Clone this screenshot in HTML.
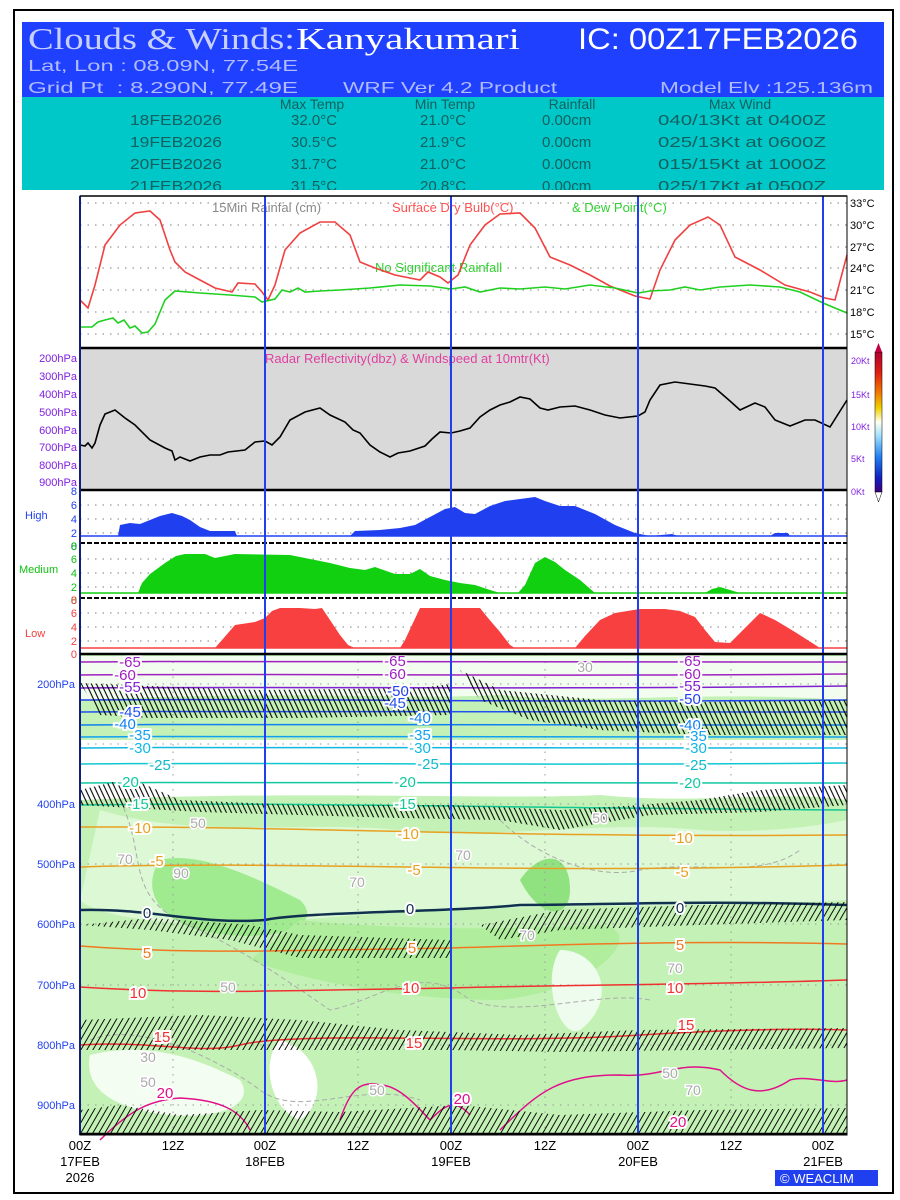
<!DOCTYPE html>
<html><head><meta charset="utf-8"><style>
html,body{margin:0;padding:0;background:#fff;}
svg{display:block;font-family:"Liberation Sans",sans-serif;}
</style></head><body>
<svg width="900" height="1200" viewBox="0 0 900 1200" xmlns="http://www.w3.org/2000/svg">
<defs>
<pattern id="barb" width="5" height="30" patternUnits="userSpaceOnUse" patternTransform="skewX(25)">
<line x1="2.5" y1="0" x2="2.5" y2="30" stroke="#000" stroke-width="1.2"/>
</pattern>
<pattern id="barb2" width="6" height="30" patternUnits="userSpaceOnUse" patternTransform="skewX(-30)">
<line x1="3" y1="0" x2="3" y2="30" stroke="#000" stroke-width="1.1"/>
</pattern>
<linearGradient id="cbar" x1="0" y1="0" x2="0" y2="1">
<stop offset="0" stop-color="#b00030"/><stop offset="0.15" stop-color="#e02010"/><stop offset="0.3" stop-color="#f08000"/><stop offset="0.4" stop-color="#f0d000"/><stop offset="0.5" stop-color="#fffff0"/><stop offset="0.6" stop-color="#a0e0ff"/><stop offset="0.75" stop-color="#2080f0"/><stop offset="0.9" stop-color="#1020c0"/><stop offset="1" stop-color="#400080"/>
</linearGradient>
</defs>
<rect x="14" y="10" width="879" height="1183" fill="#fff" stroke="#000" stroke-width="2"/>
<!-- header -->
<rect x="22" y="22" width="862" height="76" fill="#2040ff"/>
<rect x="22" y="97" width="862" height="93" fill="#00c8c8"/>
<text x="28" y="49" font-family="Liberation Serif,serif" font-size="31" fill="#c8d0ff" textLength="267" lengthAdjust="spacingAndGlyphs">Clouds &amp; Winds:</text>
<text x="296" y="49" font-family="Liberation Serif,serif" font-size="31" fill="#fff" textLength="224" lengthAdjust="spacingAndGlyphs">Kanyakumari</text>
<text x="578" y="49" font-size="30" fill="#fff" textLength="280" lengthAdjust="spacingAndGlyphs">IC: 00Z17FEB2026</text>
<text x="28" y="71" font-size="16" fill="#b0bcff" textLength="270" lengthAdjust="spacingAndGlyphs">Lat, Lon : 08.09N, 77.54E</text>
<text x="28" y="93" font-size="16" fill="#b0bcff" textLength="270" lengthAdjust="spacingAndGlyphs" xml:space="preserve">Grid Pt  : 8.290N, 77.49E</text>
<text x="343" y="93" font-size="16" fill="#b0bcff" textLength="214" lengthAdjust="spacingAndGlyphs">WRF Ver 4.2 Product</text>
<text x="660" y="93" font-size="16" fill="#b0bcff" textLength="213" lengthAdjust="spacingAndGlyphs">Model Elv :125.136m</text>
<g font-size="14" fill="#146060" text-anchor="middle">
<text x="312" y="109">Max Temp</text><text x="445" y="109">Min Temp</text><text x="572" y="109">Rainfall</text><text x="740" y="109">Max Wind</text>
</g>
<g font-size="15" fill="#146060">
<text x="130" y="125" textLength="92" lengthAdjust="spacingAndGlyphs">18FEB2026</text><text x="291" y="125">32.0°C</text><text x="420" y="125">21.0°C</text><text x="542" y="125">0.00cm</text><text x="658" y="125" textLength="168" lengthAdjust="spacingAndGlyphs">040/13Kt at 0400Z</text>
<text x="130" y="147" textLength="92" lengthAdjust="spacingAndGlyphs">19FEB2026</text><text x="291" y="147">30.5°C</text><text x="420" y="147">21.9°C</text><text x="542" y="147">0.00cm</text><text x="658" y="147" textLength="168" lengthAdjust="spacingAndGlyphs">025/13Kt at 0600Z</text>
<text x="130" y="169" textLength="92" lengthAdjust="spacingAndGlyphs">20FEB2026</text><text x="291" y="169">31.7°C</text><text x="420" y="169">21.0°C</text><text x="542" y="169">0.00cm</text><text x="658" y="169" textLength="168" lengthAdjust="spacingAndGlyphs">015/15Kt at 1000Z</text>
<text x="130" y="191" textLength="92" lengthAdjust="spacingAndGlyphs">21FEB2026</text><text x="291" y="191">31.5°C</text><text x="420" y="191">20.8°C</text><text x="542" y="191">0.00cm</text><text x="658" y="191" textLength="168" lengthAdjust="spacingAndGlyphs">025/17Kt at 0500Z</text>
</g>
<rect x="22" y="190" width="862" height="6" fill="#fff"/>

<!-- panel 1 temp -->
<g stroke="#999" stroke-dasharray="1.5,6" stroke-width="1.2">
<line x1="80" x2="847" y1="203" y2="203"/><line x1="80" x2="847" y1="225" y2="225"/><line x1="80" x2="847" y1="247" y2="247"/><line x1="80" x2="847" y1="268" y2="268"/><line x1="80" x2="847" y1="290" y2="290"/><line x1="80" x2="847" y1="312" y2="312"/><line x1="80" x2="847" y1="334" y2="334"/>
</g>
<g font-size="11" fill="#000">
<text x="850" y="207">33°C</text><text x="850" y="229">30°C</text><text x="850" y="251">27°C</text><text x="850" y="272">24°C</text><text x="850" y="294">21°C</text><text x="850" y="316">18°C</text><text x="850" y="338">15°C</text>
</g>
<text x="212" y="212" font-size="13" fill="#888">15Min Rainfal (cm)</text>
<text x="392" y="212" font-size="13" fill="#ff5050">Surface Dry Bulb(°C)</text>
<text x="572" y="212" font-size="13" fill="#30d030">&amp; Dew Point(°C)</text>
<text x="375" y="272" font-size="13" fill="#30d030">No Significant Rainfall</text>
<polyline fill="none" stroke="#f04040" stroke-width="1.6" points="80,300 88,308 95,285 105,245 120,225 135,213 150,211 160,220 170,250 175,262 185,272 200,280 215,288 232,292 238,283 255,284 262,292 268,300 275,285 285,250 300,233 320,222 335,222 350,235 360,262 375,268 395,275 420,280 428,272 440,277 448,283 458,275 470,245 485,225 500,214 520,213 535,228 550,257 570,265 590,275 610,286 635,296 650,299 660,270 675,240 690,225 708,217 720,225 735,257 760,270 785,285 810,292 825,298 835,300 847,255"/>
<polyline fill="none" stroke="#20d020" stroke-width="1.6" points="80,327 92,327 98,322 105,320 113,318 118,323 124,320 130,328 135,326 142,333 148,332 155,324 165,300 175,291 200,293 230,295 255,297 262,302 275,299 282,290 290,292 298,288 305,292 320,291 340,290 370,288 400,285 430,286 451,289 465,287 480,292 500,288 520,289 545,287 565,289 590,285 615,288 638,293 650,291 670,290 685,287 700,290 720,287 750,285 780,287 800,292 823,303 847,313"/>

<!-- radar panel -->
<rect x="80" y="348" width="767" height="142" fill="#d9d9d9"/>
<line x1="80" x2="847" y1="348" y2="348" stroke="#000" stroke-width="2.5"/>
<g font-size="11" fill="#8020e0" text-anchor="end">
<text x="77" y="362">200hPa</text><text x="77" y="380">300hPa</text><text x="77" y="398">400hPa</text><text x="77" y="416">500hPa</text><text x="77" y="434">600hPa</text><text x="77" y="451">700hPa</text><text x="77" y="469">800hPa</text><text x="77" y="486">900hPa</text>
</g>
<g font-size="9" fill="#8020e0">
<text x="851" y="364">20Kt</text><text x="851" y="398">15Kt</text><text x="851" y="430">10Kt</text><text x="851" y="462">5Kt</text><text x="851" y="495">0Kt</text>
</g>
<text x="265" y="363" font-size="13" fill="#e040a0">Radar Reflectivity(dbz) &amp; Windspeed at 10mtr(Kt)</text>
<polyline fill="none" stroke="#000" stroke-width="1.6" points="80,445 85,446 88,443 92,448 95,443 100,425 105,414 115,410 125,418 135,425 150,440 165,448 172,451 175,460 180,457 190,461 200,457 210,455 220,455 228,452 245,450 255,442 265,441 272,445 280,437 290,420 305,412 320,408 330,415 345,422 353,430 360,433 370,445 380,452 390,457 398,453 410,451 425,446 432,439 440,432 451,433 460,431 470,428 480,417 490,410 500,405 510,402 520,397 530,399 540,408 548,410 560,407 575,406 590,410 605,415 620,418 638,416 645,412 650,400 660,385 675,382 690,384 705,386 715,388 730,401 740,410 755,403 765,407 775,420 790,426 805,420 815,420 830,427 847,400"/>
<rect x="875" y="352" width="7" height="140" fill="url(#cbar)" stroke="#000" stroke-width="0.5"/>
<polygon points="875,352 882,352 878.5,343" fill="#c00040"/>
<polygon points="875,492 882,492 878.5,502" fill="#fff" stroke="#000" stroke-width="0.5"/>

<!-- cloud panels -->
<line x1="80" x2="847" y1="490" y2="490" stroke="#000" stroke-width="2.5"/>
<g stroke="#999" stroke-dasharray="1.5,6" stroke-width="1.2">
<line x1="80" x2="847" y1="505" y2="505"/><line x1="80" x2="847" y1="519" y2="519"/><line x1="80" x2="847" y1="533" y2="533"/>
<line x1="80" x2="847" y1="559" y2="559"/><line x1="80" x2="847" y1="573" y2="573"/><line x1="80" x2="847" y1="587" y2="587"/>
<line x1="80" x2="847" y1="613" y2="613"/><line x1="80" x2="847" y1="627" y2="627"/><line x1="80" x2="847" y1="641" y2="641"/>
</g>
<polygon fill="#2040f0" points="118,536 120,525 130,523 140,524 150,520 160,516 172,513 182,516 190,520 200,527 210,531 235,531 237,536 350,536 355,531 380,530 400,528 415,525 430,517 445,509 455,507 465,513 475,514 490,506 505,501 520,499 535,497 545,501 560,506 575,506 595,514 615,525 635,533 650,536 672,534 678,536 770,536 775,533 788,533 790,536"/>
<line x1="80" x2="847" y1="536" y2="536" stroke="#2040f0" stroke-width="1.5"/>
<line x1="80" x2="847" y1="543" y2="543" stroke="#000" stroke-width="2" stroke-dasharray="5,2"/>
<polygon fill="#10d010" points="138,593 142,583 150,574 165,563 176,556 185,554 205,554 215,558 225,556 235,554 290,555 305,558 330,563 350,568 365,570 375,567 395,574 410,574 420,569 430,576 445,580 460,583 475,585 490,590 500,593 518,593 525,585 535,563 545,557 555,562 565,570 580,580 595,593 705,593 712,589 720,587 730,590 740,593"/>
<line x1="80" x2="847" y1="593" y2="593" stroke="#10d010" stroke-width="1.5"/>
<line x1="80" x2="847" y1="598" y2="598" stroke="#000" stroke-width="2" stroke-dasharray="5,2"/>
<polygon fill="#f84040" points="215,648 222,640 235,625 255,622 265,618 272,611 280,608 300,608 315,609 322,608 330,620 340,635 348,645 355,648 400,648 405,640 412,625 420,608 480,608 488,618 500,632 510,645 515,648 575,648 585,636 600,620 615,613 640,609 665,609 680,611 695,617 705,630 715,642 730,643 745,628 760,613 775,620 795,632 820,648"/>
<line x1="80" x2="847" y1="648" y2="648" stroke="#f84040" stroke-width="1.5"/>
<g font-size="11" text-anchor="end">
<g fill="#2040f0"><text x="77" y="495">8</text><text x="77" y="509">6</text><text x="77" y="523">4</text><text x="77" y="537">2</text><text x="77" y="550">0</text></g>
<g fill="#10c010"><text x="77" y="550">8</text><text x="77" y="563">6</text><text x="77" y="577">4</text><text x="77" y="591">2</text><text x="77" y="604">0</text></g>
<g fill="#f04040"><text x="77" y="604">8</text><text x="77" y="617">6</text><text x="77" y="631">4</text><text x="77" y="645">2</text><text x="77" y="658">0</text></g>
</g>
<text x="25" y="519" font-size="11" fill="#2040f0">High</text>
<text x="19" y="573" font-size="11" fill="#10c010">Medium</text>
<text x="25" y="637" font-size="11" fill="#f04040">Low</text>

<!-- cross-section -->
<rect x="80" y="654" width="767" height="481" fill="#c4f2b6"/>
<path d="M80,656 H847 V700 C700,690 600,705 500,695 C400,700 300,690 80,700Z" fill="#f2fdf0"/>
<path d="M80,740 H847 V800 C780,790 700,805 600,795 C500,800 300,790 80,800Z" fill="#ffffff"/>
<path d="M100,810 C200,840 300,820 400,830 C500,840 600,820 700,830 C780,835 847,820 847,820 V900 C700,910 500,900 300,920 C200,930 100,920 80,900Z" fill="#dcf8d4"/>
<path d="M160,860 C200,850 260,880 300,900 C330,930 260,945 200,930 C160,920 140,890 160,860Z" fill="#a0ea90"/>
<path d="M300,920 C400,930 500,930 600,925 C650,930 600,990 500,1000 C400,1000 300,980 250,960Z" fill="#b0ee9e"/>
<path d="M520,880 C540,850 570,850 570,890 C570,920 540,920 520,880Z" fill="#90e280"/>
<path d="M90,1055 C150,1040 200,1060 240,1080 C260,1110 200,1125 140,1110 C100,1100 85,1080 90,1055Z" fill="#f4fdf2"/>
<path d="M280,1040 C320,1050 330,1100 300,1120 C270,1110 260,1060 280,1040Z" fill="#ffffff"/>
<path d="M560,950 C600,950 620,1000 580,1030 C560,1040 540,980 560,950Z" fill="#eefced"/>
<g stroke="#999" stroke-dasharray="1.5,6" stroke-width="1">
<line x1="80" x2="847" y1="684" y2="684"/><line x1="80" x2="847" y1="744" y2="744"/><line x1="80" x2="847" y1="804" y2="804"/><line x1="80" x2="847" y1="864" y2="864"/><line x1="80" x2="847" y1="924" y2="924"/><line x1="80" x2="847" y1="985" y2="985"/><line x1="80" x2="847" y1="1045" y2="1045"/><line x1="80" x2="847" y1="1105" y2="1105"/>
<line x1="173" x2="173" y1="654" y2="1135"/><line x1="358" x2="358" y1="654" y2="1135"/><line x1="545" x2="545" y1="654" y2="1135"/><line x1="731" x2="731" y1="654" y2="1135"/>
</g>
<g fill="none" stroke="#aaa" stroke-width="1" stroke-dasharray="5,3">
<path d="M120,800 C150,860 120,900 200,930 C260,960 300,990 330,1010 C380,1000 420,960 470,1000 C520,1020 600,990 650,1000"/>
<path d="M500,820 C540,860 600,880 640,870 C700,860 760,880 800,850"/>
<path d="M90,1040 C140,1020 220,1060 260,1090 C300,1120 360,1080 420,1100"/>
</g>
<g fill="none" stroke-width="1.5">
<path d="M80,662 C300,660 500,664 847,662" stroke="#a020c0"/>
<path d="M80,675 C300,673 500,677 847,674" stroke="#a020c0"/>
<path d="M80,688 C300,686 500,690 847,686" stroke="#8020d0"/>
<path d="M80,700 C300,698 500,703 847,700" stroke="#2040f0"/>
<path d="M80,712 C300,710 500,714 847,712" stroke="#2050f0"/>
<path d="M80,725 C300,723 500,727 847,725" stroke="#1080f0"/>
<path d="M80,737 C300,735 500,739 847,737" stroke="#10a0f0"/>
<path d="M80,748 C300,746 500,750 847,748" stroke="#10b8e0"/>
<path d="M80,764 C300,762 500,766 847,763" stroke="#10c8d0"/>
<path d="M80,783 C300,781 500,785 847,783" stroke="#10c8a0"/>
<path d="M80,805 C300,802 500,808 847,810" stroke="#10c890"/>
<path d="M80,827 C300,826 500,838 847,835" stroke="#e8a020"/>
<path d="M80,867 C300,860 500,875 847,865" stroke="#e8a020"/>
<path d="M80,910 C150,908 200,925 265,920 C300,912 450,912 520,905 C600,905 700,900 847,905" stroke="#103050" stroke-width="2.5"/>
<path d="M80,946 C200,955 300,950 451,948 C550,945 700,940 847,944" stroke="#f07820"/>
<path d="M80,987 C200,995 300,990 451,988 C550,985 700,985 847,980" stroke="#f03030"/>
<path d="M80,1045 C150,1040 200,1055 240,1045 C300,1030 500,1045 640,1035 C720,1030 800,1028 847,1030" stroke="#f03030"/>
<path d="M100,1140 C130,1110 150,1100 180,1098 C220,1100 240,1110 250,1130 M340,1120 C350,1090 360,1080 380,1085 C400,1085 420,1110 430,1120 C445,1105 455,1098 470,1115 M500,1130 C540,1090 560,1075 620,1075 C660,1078 680,1060 720,1070 C740,1090 760,1100 790,1080 C810,1075 830,1085 847,1080" stroke="#e0108a"/>
</g>
<g fill="url(#barb)">
<polygon points="80,683 150,686 260,690 420,688 450,684 450,715 300,718 150,718 100,715"/>
<polygon points="460,670 500,690 600,700 700,702 847,700 847,735 700,735 600,730 530,720 480,700"/>
<polygon points="80,790 130,778 180,800 300,805 450,805 520,808 560,810 640,805 700,800 760,790 847,785 847,805 760,812 650,815 560,830 500,820 400,818 300,815 200,812 80,805"/>
</g>
<g fill="url(#barb2)">
<polygon points="80,925 150,918 250,925 300,935 450,940 450,958 300,958 230,940 150,930"/>
<polygon points="480,925 560,910 700,905 847,902 847,920 700,925 560,930 500,940"/>
<polygon points="80,1020 200,1015 300,1020 400,1030 520,1035 640,1030 847,1028 847,1048 700,1050 560,1052 450,1050 300,1050 200,1050 80,1050"/>
<polygon points="80,1110 120,1105 180,1115 260,1110 340,1112 460,1105 560,1115 700,1110 847,1108 847,1135 80,1135"/>
</g>
<g font-size="15" text-anchor="middle" paint-order="stroke" stroke="#fff" stroke-width="4">
<text x="130" y="667" fill="#a020c0">-65</text><text x="395" y="666" fill="#a020c0">-65</text><text x="690" y="666" fill="#a020c0">-65</text>
<text x="125" y="680" fill="#a020c0">-60</text><text x="395" y="679" fill="#a020c0">-60</text><text x="690" y="679" fill="#a020c0">-60</text>
<text x="130" y="692" fill="#8020d0">-55</text><text x="690" y="691" fill="#8020d0">-55</text>
<text x="398" y="696" fill="#2040f0">-50</text><text x="690" y="704" fill="#2040f0">-50</text>
<text x="395" y="708" fill="#2050f0">-45</text>
<text x="130" y="717" fill="#2050f0">-45</text>
<text x="125" y="729" fill="#1080f0">-40</text><text x="420" y="723" fill="#1080f0">-40</text><text x="690" y="730" fill="#1080f0">-40</text>
<text x="140" y="740" fill="#10a0f0">-35</text><text x="420" y="740" fill="#10a0f0">-35</text><text x="696" y="741" fill="#10a0f0">-35</text>
<text x="140" y="753" fill="#10b8e0">-30</text><text x="420" y="753" fill="#10b8e0">-30</text><text x="696" y="753" fill="#10b8e0">-30</text>
<text x="160" y="770" fill="#10b8c8">-25</text><text x="428" y="769" fill="#10b8c8">-25</text><text x="696" y="770" fill="#10b8c8">-25</text>
<text x="128" y="787" fill="#10c8a0">-20</text><text x="405" y="787" fill="#10c8a0">-20</text><text x="690" y="788" fill="#10c8a0">-20</text>
<text x="138" y="809" fill="#10c890">-15</text><text x="405" y="809" fill="#10c890">-15</text>
<text x="140" y="833" fill="#e8a020">-10</text><text x="408" y="839" fill="#e8a020">-10</text><text x="682" y="843" fill="#e8a020">-10</text>
<text x="157" y="866" fill="#e8a020">-5</text><text x="414" y="875" fill="#e8a020">-5</text><text x="682" y="877" fill="#e8a020">-5</text>
<text x="147" y="918" fill="#103050">0</text><text x="410" y="914" fill="#103050">0</text><text x="680" y="913" fill="#103050">0</text>
<text x="147" y="958" fill="#f07820">5</text><text x="412" y="953" fill="#f07820">5</text><text x="680" y="950" fill="#f07820">5</text>
<text x="138" y="998" fill="#f03030">10</text><text x="411" y="993" fill="#f03030">10</text><text x="675" y="993" fill="#f03030">10</text>
<text x="162" y="1042" fill="#f03030">15</text><text x="414" y="1048" fill="#f03030">15</text><text x="686" y="1030" fill="#f03030">15</text>
<text x="165" y="1098" fill="#e0108a">20</text><text x="462" y="1104" fill="#e0108a">20</text><text x="678" y="1127" fill="#e0108a">20</text>
</g>
<g font-size="14" text-anchor="middle" fill="#aaa" paint-order="stroke" stroke="#fff" stroke-width="3">
<text x="585" y="672">30</text><text x="198" y="828">50</text><text x="125" y="864">70</text><text x="181" y="878">90</text><text x="357" y="887">70</text><text x="463" y="860">70</text><text x="600" y="823">50</text><text x="527" y="940">70</text><text x="228" y="992">50</text><text x="148" y="1062">30</text><text x="148" y="1087">50</text><text x="377" y="1095">50</text><text x="670" y="1078">50</text><text x="693" y="1095">70</text><text x="675" y="973">70</text>
</g>
<!-- blue vertical lines and frame -->
<g stroke="#2040f0" stroke-width="2">
<line x1="80" x2="80" y1="196" y2="1135"/><line x1="265" x2="265" y1="196" y2="1135"/><line x1="451" x2="451" y1="196" y2="1135"/><line x1="638" x2="638" y1="196" y2="1135"/><line x1="823" x2="823" y1="196" y2="1135"/>
</g>
<rect x="80" y="196" width="767" height="939" fill="none" stroke="#000" stroke-width="1"/>
<line x1="80" x2="847" y1="196" y2="196" stroke="#000" stroke-width="1.5"/>
<line x1="80" x2="847" y1="654" y2="654" stroke="#000" stroke-width="2.5"/>
<line x1="80" x2="847" y1="1134" y2="1134" stroke="#000" stroke-width="2.5"/>
<g font-size="11" fill="#2040f0" text-anchor="end">
<text x="75" y="688">200hPa</text><text x="75" y="808">400hPa</text><text x="75" y="868">500hPa</text><text x="75" y="928">600hPa</text><text x="75" y="989">700hPa</text><text x="75" y="1049">800hPa</text><text x="75" y="1109">900hPa</text>
</g>
<g font-size="13" fill="#000" text-anchor="middle">
<text x="80" y="1150">00Z</text><text x="80" y="1166">17FEB</text><text x="80" y="1182">2026</text>
<text x="173" y="1150">12Z</text>
<text x="265" y="1150">00Z</text><text x="265" y="1166">18FEB</text>
<text x="358" y="1150">12Z</text>
<text x="451" y="1150">00Z</text><text x="451" y="1166">19FEB</text>
<text x="545" y="1150">12Z</text>
<text x="638" y="1150">00Z</text><text x="638" y="1166">20FEB</text>
<text x="731" y="1150">12Z</text>
<text x="823" y="1150">00Z</text><text x="823" y="1166">21FEB</text>
</g>
<rect x="775" y="1170" width="103" height="16" fill="#2040f0"/>
<text x="780" y="1183" font-size="13" fill="#fff">© WEACLIM</text>
</svg>
</body></html>
